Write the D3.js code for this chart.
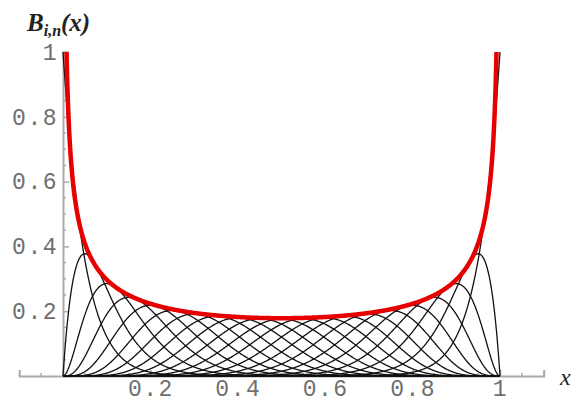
<!DOCTYPE html>
<meta charset="utf-8">
<title>Bernstein basis polynomials</title>
<style>
  body { margin: 0; background: #fff; }
  .tick text { font-family: "Liberation Mono", "DejaVu Sans Mono", monospace; font-size: 23px; fill: #6f6f6f; letter-spacing: 1.5px; }
  .lbl { font-family: "Liberation Serif", "DejaVu Serif", serif; font-style: italic; fill: #222; }
</style>
<body>
<svg width="573" height="405"></svg>
<script src="https://d3js.org/d3.v7.min.js"></script>
<script>
// degree of the Bernstein basis and the indices i that are drawn
var degree = 20;
var basisIndex = [0, 1, 2, 3, 4, 5, 6, 7, 8, 9, 10, 11, 12, 13, 14, 15, 16, 17, 18, 19, 20];
var xTicks = [0.2, 0.4, 0.6, 0.8, 1];
var xTickLabels = ["0.2", "0.4", "0.6", "0.8", "1"];
var yTicks = [0.2, 0.4, 0.6, 0.8, 1];
var yTickLabels = ["0.2", "0.4", "0.6", "0.8", "1"];
var xMinor = [-0.1, -0.05, 0.05, 0.1, 0.15, 0.25, 0.3, 0.35, 0.45, 0.5, 0.55, 0.65, 0.7, 0.75, 0.85, 0.9, 0.95, 1.05, 1.1];
var yMinor = [0.05, 0.1, 0.15, 0.25, 0.3, 0.35, 0.45, 0.5, 0.55, 0.65, 0.7, 0.75, 0.85, 0.9, 0.95];

var svg = d3.select("svg");

// plot range goes a bit past [0,1] on the x axis, like the original
var x = d3.scaleLinear().domain([-0.1, 1.1]).range([19.3, 543.7]);
var y = d3.scaleLinear().domain([0, 1]).range([376, 52]);

function binom(n, k) {
  var r = 1;
  for (var j = 1; j <= k; j++) r = r * (n - k + j) / j;
  return r;
}
function bern(i, n, t) {
  return binom(n, i) * Math.pow(t, i) * Math.pow(1 - t, n - i);
}
// smooth envelope 1/sqrt(2 pi n x(1-x))
function envelope(n, t) {
  return 1 / Math.sqrt(2 * Math.PI * n * t * (1 - t));
}

var samples = d3.range(0, 1.0001, 0.001);

// axes (grey)
var gx = svg.append("g")
    .attr("transform", "translate(0," + y(0) + ")")
    .call(d3.axisBottom(x).tickValues(xTicks).tickSize(-6).tickPadding(6)
      .tickFormat(function(d, i) { return xTickLabels[i]; }));
gx.select(".domain").attr("stroke", "#aaa").attr("stroke-width", 2);
gx.selectAll(".tick line").attr("stroke", "#aaa").attr("stroke-width", 1.5);
gx.selectAll(".tick text").attr("dy", "0.62em");
gx.append("g").selectAll("line").data(xMinor).enter().append("line")
    .attr("x1", function(d) { return x(d); }).attr("x2", function(d) { return x(d); })
    .attr("y1", 0).attr("y2", -3)
    .attr("stroke", "#aaa").attr("stroke-width", 1.5);

var gy = svg.append("g")
    .attr("transform", "translate(" + x(0) + ",0)")
    .call(d3.axisLeft(y).tickValues(yTicks).tickSize(-6).tickPadding(5)
      .tickFormat(function(d, i) { return yTickLabels[i]; }));
gy.select(".domain").attr("stroke", "#aaa").attr("stroke-width", 2);
gy.selectAll(".tick line").attr("stroke", "#aaa").attr("stroke-width", 1.5);
gy.append("g").selectAll("line").data(yMinor).enter().append("line")
    .attr("y1", function(d) { return y(d); }).attr("y2", function(d) { return y(d); })
    .attr("x1", 0).attr("x2", 3)
    .attr("stroke", "#aaa").attr("stroke-width", 1.5);

// basis curves
var line = d3.line()
    .x(function(d) { return x(d[0]); })
    .y(function(d) { return y(d[1]); });

svg.append("g").selectAll("path")
    .data(basisIndex)
  .enter().append("path")
    .attr("fill", "none")
    .attr("stroke", "#111")
    .attr("stroke-width", 1.3)
    .attr("d", function(i) {
      return line(samples.map(function(t) { return [t, bern(i, degree, t)]; }));
    });

// red envelope, clipped at 1 (start and end where it reaches 1)
var c = 1 / (2 * Math.PI * degree);
var tEdge = (1 - Math.sqrt(1 - 4 * c)) / 2;
var env = [tEdge].concat(samples.filter(function(t) { return t > tEdge && t < 1 - tEdge; }), [1 - tEdge]);
svg.append("path")
    .attr("fill", "none")
    .attr("stroke", "#e60000")
    .attr("stroke-width", 4.5)
    .attr("d", line(env.map(function(t) { return [t, Math.min(1, envelope(degree, t))]; })));

// labels
var yl = svg.append("text").attr("class", "lbl")
    .attr("x", 27).attr("y", 31)
    .attr("font-size", 25).attr("font-weight", "bold");
yl.append("tspan").text("B");
yl.append("tspan").attr("font-size", 16).attr("dy", 5).text("i,n");
yl.append("tspan").attr("dy", -5).text("(x)");

svg.append("text").attr("class", "lbl")
    .attr("x", 560).attr("y", 385)
    .attr("font-size", 24)
    .text("x");
</script>
</body>
